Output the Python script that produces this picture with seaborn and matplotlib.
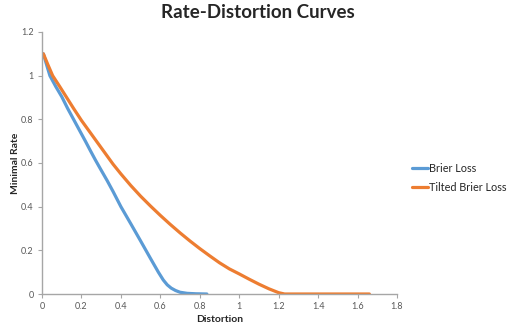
import pandas as pd
import matplotlib
matplotlib.use("Agg")
import matplotlib.pyplot as plt
import seaborn as sns
from matplotlib.ticker import MultipleLocator, FormatStrFormatter

# Values
brier_x = [0, 0.007, 0.02, 0.04, 0.07, 0.1, 0.13, 0.16, 0.19, 0.22, 0.245, 0.27,
           0.295, 0.33, 0.36, 0.4, 0.45, 0.5, 0.55, 0.59, 0.615, 0.635, 0.655,
           0.677, 0.7, 0.736, 0.78, 0.836]
brier_y = [1.10, 1.10, 1.06, 1.00, 0.95, 0.904, 0.85, 0.80, 0.75, 0.70, 0.657, 0.615,
           0.575, 0.52, 0.47, 0.40, 0.322, 0.243, 0.163, 0.10, 0.064, 0.042, 0.027,
           0.016, 0.008, 0.003, 0.001, 0.0]

tilted_x = [0, 0.007, 0.03, 0.054, 0.09, 0.125, 0.16, 0.2, 0.24, 0.28, 0.32, 0.36,
            0.4, 0.45, 0.5, 0.55, 0.6, 0.65, 0.7, 0.75, 0.8, 0.85, 0.9, 0.95, 1.0,
            1.05, 1.1, 1.15, 1.2, 1.23, 1.4, 1.66]
tilted_y = [1.10, 1.10, 1.05, 1.00, 0.95, 0.90, 0.85, 0.795, 0.745, 0.695, 0.645, 0.595,
            0.55, 0.497, 0.448, 0.403, 0.36, 0.319, 0.28, 0.243, 0.208, 0.175, 0.143,
            0.115, 0.092, 0.068, 0.045, 0.024, 0.006, 0.0, 0.0, 0.0]

series_names = ["Brier Loss", "Tilted Brier Loss"]
colors = ["#5B9BD5", "#ED7D31"]

df = pd.concat([
    pd.DataFrame({"Distortion": brier_x, "Minimal Rate": brier_y, "Loss": series_names[0]}),
    pd.DataFrame({"Distortion": tilted_x, "Minimal Rate": tilted_y, "Loss": series_names[1]}),
], ignore_index=True)

sns.set_theme(style="white")
plt.rcParams["font.family"] = ["Lato", "DejaVu Sans"]

W, H = 515, 336
fig = plt.figure(figsize=(W / 100, H / 100), dpi=100)
ax = fig.add_axes([42 / W, 1 - 294 / H, 355 / W, 262 / H])

sns.lineplot(data=df, x="Distortion", y="Minimal Rate", hue="Loss",
             palette=dict(zip(series_names, colors)), sort=False,
             linewidth=2.3, ax=ax)
for line in ax.get_lines():
    line.set_solid_joinstyle("round")
    line.set_solid_capstyle("round")

ax.set_xlim(0, 1.8)
ax.set_ylim(0, 1.2)
ax.xaxis.set_major_locator(MultipleLocator(0.2))
ax.yaxis.set_major_locator(MultipleLocator(0.2))
ax.xaxis.set_major_formatter(FormatStrFormatter("%g"))
ax.yaxis.set_major_formatter(FormatStrFormatter("%g"))

for side in ["top", "right"]:
    ax.spines[side].set_visible(False)
for side in ["left", "bottom"]:
    ax.spines[side].set_color("#A6A6A6")
    ax.spines[side].set_linewidth(1.0)

ax.tick_params(axis="both", which="major", direction="out", length=3, width=0.8,
               color="#A6A6A6", labelsize=6.5, labelcolor="#595959", pad=3)
ax.tick_params(axis="x", bottom=True)
ax.tick_params(axis="y", left=True)

ax.set_xlabel("")
ax.set_ylabel("")
fig.text((42 + 177.5) / W, 1 - 320 / H, "Distortion", fontsize=7.5,
         fontweight="bold", ha="center", va="center")
fig.text(15 / W, 1 - 163 / H, "Minimal Rate", fontsize=7.5, fontweight="bold",
         rotation=90, ha="center", va="center")
fig.text(0.5, 1 - 13 / H, "Rate-Distortion Curves", fontsize=13.5,
         fontweight="bold", ha="center", va="center")

handles, labels = ax.get_legend_handles_labels()
ax.get_legend().remove()
fig.legend(handles, labels, loc="center left",
           bbox_to_anchor=(412 / W, 1 - 178 / H), frameon=False,
           fontsize=7.8, handlelength=1.45, handletextpad=0.1,
           labelspacing=0.75, borderpad=0, borderaxespad=0)

fig.savefig("out.png", dpi=100)
